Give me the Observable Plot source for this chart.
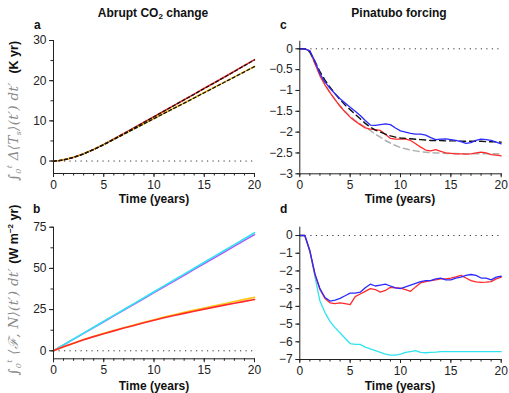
<!DOCTYPE html>
<html>
<head>
<meta charset="utf-8">
<script src="https://cdn.jsdelivr.net/npm/d3@7"></script>
<script src="https://cdn.jsdelivr.net/npm/@observablehq/plot@0.6"></script>
<style>
  html, body { margin: 0; padding: 0; background: #fff; }
  #wrap { position: relative; width: 509px; height: 393px; overflow: hidden; font-family: "Liberation Sans", Arial, sans-serif; color: #222; }
  #wrap svg { position: absolute; overflow: visible; }
  .txt { position: absolute; white-space: nowrap; font-weight: bold; font-size: 12px; color: #111; line-height: 1; }
  .ylab { position: absolute; white-space: nowrap; transform: translate(-50%, -50%) rotate(-90deg); line-height: 1; }
  .math { font-family: "DejaVu Serif", "Liberation Serif", serif; font-style: italic; color: #8a8a8a; font-size: 13.5px; letter-spacing: 0.3px; }
  .math sub, .math sup { font-size: 8px; }
  .unit { font-weight: bold; font-size: 12.5px; color: #111; }
</style>
</head>
<body>
<div id="wrap"></div>
<script>
// ---------- data ----------
const xMajorTicks = [0, 5, 10, 15, 20];
const xMinorTicks = [0,1,2,3,4,5,6,7,8,9,10,11,12,13,14,15,16,17,18,19,20];

// Panel a: integrated temperature (K yr)
const tA = [0, 0.5, 1, 1.5, 2, 2.5, 3, 4, 5, 6, 7, 8, 9, 10, 11, 12, 13, 14, 15, 16, 17, 18, 19, 20];
const aRed    = [0, 0.08, 0.3, 0.6, 0.95, 1.35, 1.8, 2.9, 4.15, 5.5, 6.85, 8.25, 9.65, 11.05, 12.45, 13.85, 15.25, 16.65, 18.1, 19.5, 20.9, 22.35, 23.8, 25.25];
const aOrange = [0, 0.08, 0.3, 0.6, 0.95, 1.35, 1.8, 2.9, 4.1, 5.4, 6.7, 8.0, 9.3, 10.6, 11.9, 13.2, 14.45, 15.75, 17.05, 18.35, 19.65, 20.95, 22.25, 23.55];
const aBlack1 = [0, 0.07, 0.28, 0.58, 0.93, 1.33, 1.78, 2.88, 4.12, 5.47, 6.83, 8.22, 9.62, 11.02, 12.42, 13.83, 15.23, 16.63, 18.05, 19.45, 20.85, 22.3, 23.75, 25.15];
const aBlack2 = [0, 0.07, 0.28, 0.58, 0.93, 1.33, 1.78, 2.86, 4.05, 5.35, 6.65, 7.95, 9.25, 10.55, 11.85, 13.15, 14.4, 15.7, 17.0, 18.3, 19.6, 20.9, 22.2, 23.5];
const aTicks = [0, 10, 20, 30];
const aMinor = [0, 5, 10, 15, 20, 25, 30];

// Panel b: integrated forcing / flux (W m^-2 yr)
const tB = [0,1,2,3,4,5,6,7,8,9,10,11,12,13,14,15,16,17,18,19,20];
const bRed    = [0, 2.4, 4.6, 6.7, 8.6, 10.4, 12.1, 13.8, 15.4, 17.0, 18.6, 20.1, 21.4, 22.7, 24.0, 25.3, 26.5, 27.7, 28.9, 30.0, 31.1];
const bOrange = [0, 2.4, 4.6, 6.8, 8.7, 10.6, 12.3, 14.0, 15.7, 17.3, 18.9, 20.5, 21.9, 23.3, 24.7, 26.0, 27.3, 28.6, 29.9, 31.2, 32.4];
const bCyan   = [0, 3.6, 7.2, 10.7, 14.3, 17.9, 21.5, 25.1, 28.6, 32.2, 35.8, 39.4, 43.0, 46.5, 50.1, 53.7, 57.3, 60.9, 64.4, 68.0, 71.6];
const bPurple = [0, 3.5, 7.1, 10.6, 14.1, 17.6, 21.2, 24.7, 28.2, 31.7, 35.3, 38.8, 42.3, 45.8, 49.4, 52.9, 56.4, 59.9, 63.5, 67.0, 70.5];
const bTicks = [0, 25, 50, 75];
const bMinor = [0, 12.5, 25, 37.5, 50, 62.5, 75];

// Panel c: Pinatubo integrated temperature
const tC = [0,0.5,1,1.5,2,2.5,3,3.5,4,4.5,5,5.5,6,6.5,7,7.5,8,8.5,9,9.5,10,10.5,11,11.5,12,12.5,13,13.5,14,14.5,15,15.5,16,16.5,17,17.5,18,18.5,19,19.5,20];
const cBlue  = [0,0,-0.05,-0.3,-0.6,-0.8,-0.95,-1.08,-1.2,-1.3,-1.4,-1.5,-1.6,-1.72,-1.83,-1.84,-1.82,-1.8,-1.82,-1.9,-1.97,-2.0,-2.03,-2.05,-2.05,-2.07,-2.13,-2.18,-2.17,-2.16,-2.18,-2.2,-2.23,-2.27,-2.25,-2.2,-2.17,-2.18,-2.2,-2.24,-2.28];
const cRed   = [0,0,-0.05,-0.35,-0.65,-0.87,-1.05,-1.22,-1.38,-1.52,-1.64,-1.74,-1.82,-1.9,-1.93,-1.94,-1.96,-2.05,-2.15,-2.17,-2.17,-2.17,-2.2,-2.28,-2.36,-2.43,-2.45,-2.42,-2.46,-2.5,-2.51,-2.52,-2.52,-2.53,-2.52,-2.5,-2.48,-2.5,-2.54,-2.55,-2.57];
const cBlack = [0,0,-0.08,-0.3,-0.55,-0.75,-0.92,-1.08,-1.22,-1.35,-1.46,-1.57,-1.68,-1.79,-1.88,-1.95,-2.0,-2.05,-2.09,-2.12,-2.14,-2.15,-2.16,-2.17,-2.18,-2.19,-2.2,-2.2,-2.2,-2.21,-2.21,-2.21,-2.22,-2.22,-2.22,-2.22,-2.22,-2.23,-2.23,-2.23,-2.24];
const cGray  = [0,0,-0.08,-0.35,-0.62,-0.85,-1.05,-1.22,-1.37,-1.5,-1.62,-1.72,-1.8,-1.88,-1.96,-2.05,-2.12,-2.2,-2.26,-2.32,-2.37,-2.4,-2.43,-2.45,-2.47,-2.48,-2.49,-2.5,-2.5,-2.51,-2.51,-2.51,-2.52,-2.52,-2.52,-2.52,-2.52,-2.52,-2.52,-2.52,-2.53];
const cTicks = [0, -0.5, -1, -1.5, -2, -2.5, -3];

// Panel d: Pinatubo integrated forcing / flux
const tD = tC;
const dRed  = [0,0,-0.9,-2.2,-3.05,-3.55,-3.8,-3.85,-3.8,-3.85,-3.9,-3.45,-3.3,-3.15,-3.0,-3.05,-3.2,-3.1,-2.92,-2.95,-2.97,-3.05,-3.15,-2.9,-2.67,-2.6,-2.55,-2.5,-2.45,-2.45,-2.4,-2.33,-2.25,-2.4,-2.55,-2.62,-2.65,-2.63,-2.6,-2.45,-2.35];
const dBlue = [0,0,-0.85,-2.15,-3.0,-3.5,-3.7,-3.65,-3.55,-3.4,-3.25,-3.25,-3.2,-2.95,-2.75,-2.85,-2.8,-2.75,-2.85,-2.95,-3.0,-2.9,-2.8,-2.7,-2.6,-2.55,-2.55,-2.45,-2.4,-2.5,-2.5,-2.4,-2.35,-2.25,-2.2,-2.25,-2.4,-2.4,-2.5,-2.35,-2.3];
const dCyan = [0,0,-0.9,-2.3,-3.7,-4.35,-4.85,-5.2,-5.5,-5.8,-6.1,-6.15,-6.15,-6.3,-6.4,-6.5,-6.6,-6.7,-6.75,-6.75,-6.7,-6.6,-6.55,-6.5,-6.6,-6.62,-6.6,-6.58,-6.55,-6.55,-6.55,-6.55,-6.55,-6.55,-6.55,-6.55,-6.55,-6.55,-6.55,-6.55,-6.55];
const dTicks = [0, -1, -2, -3, -4, -5, -6, -7];

// ---------- colours ----------
const RED = "#ff2b2b", ORANGE = "#ffc61a", CYAN = "#2fe4f0", PURPLE = "#b452ff", BLUE = "#2b2bff", BLACK = "#111", GRAY = "#b0b0b0";

const fmt = d => d < 0 ? "\u2212" + Math.abs(d) : String(d);

function panel({left, top, width, height, marginLeft, marginRight, marginTop, marginBottom, yDomain, yTicks, yMinor, lines}) {
  const marks = [
    Plot.ruleY([0], {stroke: "#333", strokeWidth: 1, strokeDasharray: "1.2,4.3"}),
    ...lines.map(l => Plot.line(l.v, {x: l.t, y: l.v, stroke: l.color, strokeWidth: l.w || 1.5, strokeDasharray: l.dash || null})),
    Plot.ruleY([yDomain[0]], {stroke: "#222", strokeWidth: 1}),
    Plot.ruleX([0], {y1: yDomain[0], y2: yDomain[1], stroke: "#222", strokeWidth: 1}),
    Plot.axisX({ticks: xMinorTicks, tickSize: 2.5, tickFormat: () => "", label: null, stroke: "#222"}),
    Plot.axisX({ticks: xMajorTicks, tickSize: 4, tickPadding: 3, tickFormat: fmt, label: null, fontSize: 12, stroke: "#222"}),
    Plot.axisY({ticks: yMinor || yTicks, tickSize: 2.5, tickFormat: () => "", label: null, stroke: "#222"}),
    Plot.axisY({ticks: yTicks, tickSize: 4, tickPadding: 3, tickFormat: fmt, label: null, fontSize: 12, stroke: "#222"})
  ];
  const svg = Plot.plot({
    width, height, marginLeft, marginRight, marginTop, marginBottom,
    style: {fontFamily: "Liberation Sans, Arial, sans-serif", fontSize: "12px", color: "#222", background: "transparent"},
    x: {domain: [0, 20]},
    y: {domain: yDomain},
    marks
  });
  svg.style.left = left + "px";
  svg.style.top = top + "px";
  document.getElementById("wrap").appendChild(svg);
}

panel({left: 0, top: 30, width: 260, height: 165, marginLeft: 53, marginRight: 6, marginTop: 10, marginBottom: 22,
  yDomain: [-3.1, 30], yTicks: aTicks, yMinor: aMinor,
  lines: [
    {t: tA, v: aRed, color: RED, w: 1.6},
    {t: tA, v: aOrange, color: ORANGE, w: 1.6},
    {t: tA, v: aBlack1, color: BLACK, dash: "3,2.5", w: 1.3},
    {t: tA, v: aBlack2, color: BLACK, dash: "3,2.5", w: 1.3}
  ]});

panel({left: 250, top: 30, width: 259, height: 165.3, marginLeft: 49.3, marginRight: 8.3, marginTop: 10.8, marginBottom: 22,
  yDomain: [-3, 0.18], yTicks: cTicks,
  lines: [
    {t: tC, v: cGray, color: GRAY, dash: "6,4", w: 1.5},
    {t: tC, v: cRed, color: RED, w: 1.3},
    {t: tC, v: cBlack, color: BLACK, dash: "6,4", w: 1.4},
    {t: tC, v: cBlue, color: BLUE, w: 1.3}
  ]});

panel({left: 0, top: 215, width: 260, height: 165.3, marginLeft: 53, marginRight: 6, marginTop: 11.7, marginBottom: 22,
  yDomain: [-4.85, 75], yTicks: bTicks, yMinor: bMinor,
  lines: [
    {t: tB, v: bPurple, color: PURPLE, w: 1.6},
    {t: tB, v: bCyan, color: CYAN, w: 1.6},
    {t: tB, v: bOrange, color: ORANGE, w: 1.6},
    {t: tB, v: bRed, color: RED, w: 1.6}
  ]});

panel({left: 250, top: 215, width: 259, height: 166, marginLeft: 49.3, marginRight: 8.3, marginTop: 11.7, marginBottom: 22,
  yDomain: [-7, 0.47], yTicks: dTicks,
  lines: [
    {t: tD, v: dCyan, color: CYAN, w: 1.3},
    {t: tD, v: dRed, color: RED, w: 1.3},
    {t: tD, v: dBlue, color: BLUE, w: 1.3}
  ]});

// ---------- text ----------
const wrap = document.getElementById("wrap");
function addText(html, x, y, cls, anchor) {
  const d = document.createElement("div");
  d.className = cls;
  d.innerHTML = html;
  d.style.left = x + "px";
  d.style.top = y + "px";
  if (anchor === "middle") d.style.transform = "translateX(-50%)";
  wrap.appendChild(d);
  return d;
}
addText("Abrupt CO<sub style='font-size:8px;vertical-align:-2px'>2</sub> change", 153, 7, "txt", "middle");
addText("Pinatubo forcing", 399, 7, "txt", "middle");
addText("a", 34, 19, "txt");
addText("c", 280, 19, "txt");
addText("b", 33, 203, "txt");
addText("d", 280, 203, "txt");
addText("Time (years)", 154, 193, "txt", "middle");
addText("Time (years)", 400, 193, "txt", "middle");
addText("Time (years)", 154, 380, "txt", "middle");
addText("Time (years)", 400, 380, "txt", "middle");

const ya = document.createElement("div");
ya.className = "ylab";
ya.style.left = "14px"; ya.style.top = "111px";
ya.innerHTML = "<span class='math'>\u222B<sub>0</sub><sup>t</sup> \u0394\u27E8T<sub>s</sub>\u27E9(t\u2032) dt\u2032</span>&nbsp;&nbsp;<span class='unit'>(K yr)</span>";
wrap.appendChild(ya);

const yb = document.createElement("div");
yb.className = "ylab";
yb.style.left = "14px"; yb.style.top = "290px";
yb.innerHTML = "<span class='math'>\u222B<sub>0</sub><sup>t</sup> \u27E8\u2131, N\u27E9(t\u2032) dt\u2032</span> <span class='unit'>(W m<sup style='font-size:8px'>\u22122</sup> yr)</span>";
wrap.appendChild(yb);
</script>
</body>
</html>
